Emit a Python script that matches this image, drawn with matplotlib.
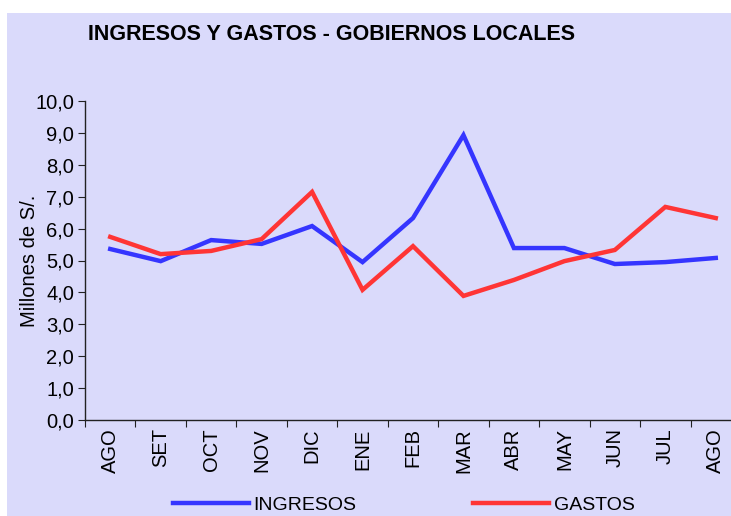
import matplotlib
matplotlib.use('Agg')
import matplotlib.pyplot as plt
from matplotlib.patches import Rectangle
from matplotlib.ticker import FuncFormatter

# Monthly values (millions of S/.)
meses = ['AGO', 'SET', 'OCT', 'NOV', 'DIC', 'ENE', 'FEB', 'MAR', 'ABR', 'MAY', 'JUN', 'JUL', 'AGO']
ingresos = [5.36, 4.98, 5.64, 5.52, 6.08, 4.95, 6.33, 8.93, 5.39, 5.39, 4.89, 4.95, 5.08]
gastos = [5.74, 5.20, 5.30, 5.67, 7.15, 4.08, 5.45, 3.89, 4.39, 4.98, 5.33, 6.68, 6.33]

bg = '#dadafb'
plt.rcParams['font.family'] = ['Liberation Sans', 'DejaVu Sans']

fig = plt.figure(figsize=(7.31, 5.16), dpi=100)
fig.patch.set_facecolor('white')
fig.patches.append(Rectangle((7 / 731, 0), 1, (516 - 13) / 516, transform=fig.transFigure,
                             facecolor=bg, edgecolor='none', zorder=-10))

ax = fig.add_axes([85 / 731, 96 / 516, 656 / 731, 319 / 516])
ax.set_facecolor('none')

x = list(range(len(meses)))
ax.plot(x, ingresos, color='#3535ff', lw=3.2, solid_joinstyle='miter', label='INGRESOS')
ax.plot(x, gastos, color='#ff3535', lw=3.2, solid_joinstyle='miter', label='GASTOS')

ax.set_xlim(-0.5, len(meses) - 0.5)
ax.set_ylim(0, 10)
ax.set_yticks(range(0, 11))
ax.yaxis.set_major_formatter(FuncFormatter(lambda v, p: f'{v:.1f}'.replace('.', ',')))
ax.set_xticks([i - 0.5 for i in range(len(meses))])
ax.set_xticklabels([])
ax.set_xticks(x, minor=True)
ax.set_xticklabels(meses, minor=True, rotation=90, fontsize=14.5)
ax.tick_params(axis='x', which='minor', length=0, pad=6)
ax.tick_params(axis='x', which='major', length=5, direction='out', color='#222222')
ax.tick_params(axis='y', length=5, labelsize=14.5, pad=3, color='#222222')

for s in ['top', 'right']:
    ax.spines[s].set_visible(False)
for s in ['left', 'bottom']:
    ax.spines[s].set_color('#222222')
    ax.spines[s].set_linewidth(1)

ax.set_ylabel('Millones de S/.', fontsize=14.5, labelpad=-3)

fig.text(331 / 731, 1 - 34 / 516, 'INGRESOS Y GASTOS - GOBIERNOS LOCALES', ha='center', va='center',
         fontsize=15.5, fontweight='bold')

fig.legend(loc='center', bbox_to_anchor=(404 / 731, 11 / 516), ncol=2, frameon=False,
           prop={'size': 14}, handlelength=3.9, handletextpad=0.25, columnspacing=6.0)

fig.savefig('out.png', dpi=100)
